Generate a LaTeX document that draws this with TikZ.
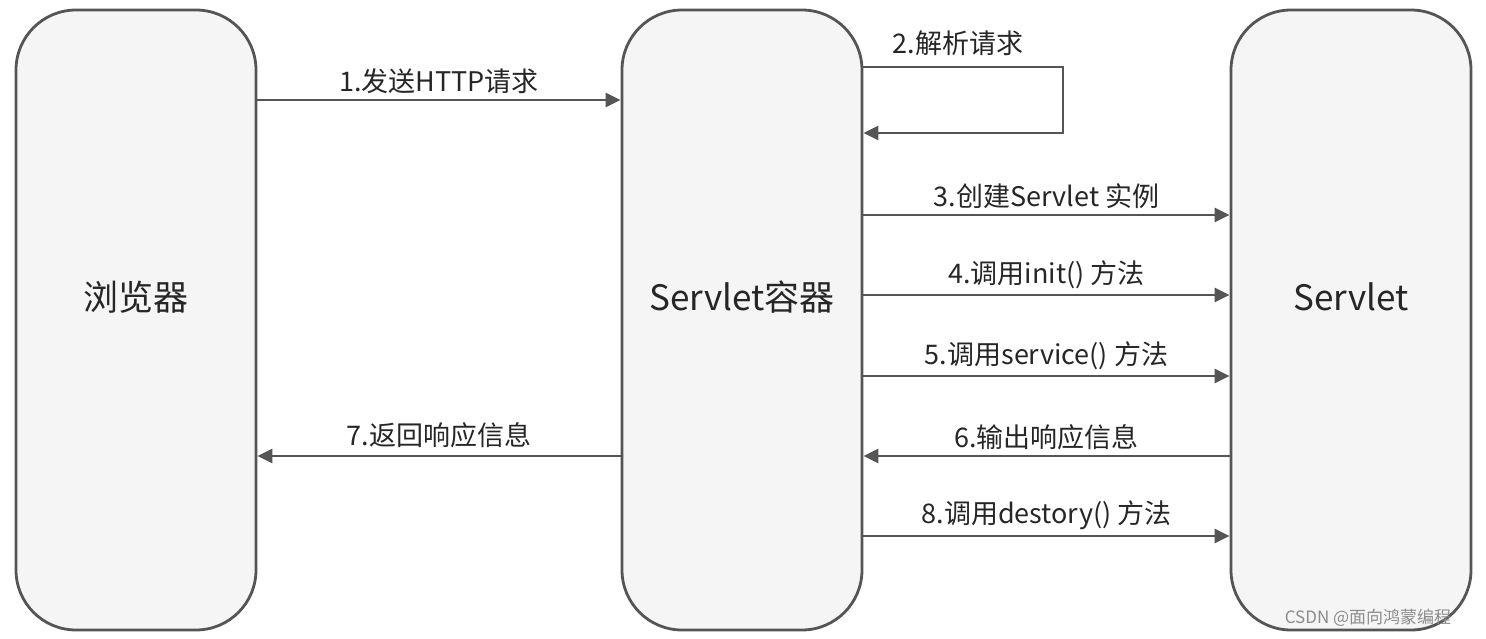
\documentclass[tikz,border=0pt]{standalone}
\usepackage{fontspec}
\setmainfont{Noto Sans CJK SC}
\usetikzlibrary{arrows.meta}
\definecolor{boxfill}{HTML}{F5F5F5}
\definecolor{line}{HTML}{555555}
\begin{document}
\begin{tikzpicture}[x=1pt,y=-1pt,
  lane/.style={draw=line,fill=boxfill,line width=2.8pt,rounded corners=60pt,minimum width=240pt,minimum height=620pt},
  title/.style={font=\fontsize{35}{40}\selectfont,text=black!85},
  msg/.style={draw=line,line width=2.6pt,-{Triangle[length=15pt,width=14pt]}},
  lbl/.style={font=\fontsize{27}{30}\selectfont,text=black!85}]
\useasboundingbox (0,0) rectangle (1486,638);
\node[lane] (b) at (136,320) {};
\node[lane] (c) at (742,320) {};
\node[lane] (s) at (1351,320) {};
\node[title] (bt) at (136,297) {浏览器};
\node[title] (ct) at (742,297) {Servlet容器};
\node[title] (st) at (1351,297) {Servlet};
\coordinate (l1) at (1063,67);
\coordinate (l2) at (1063,133);
\draw[msg] (b.east|-0,100) -- node[lbl,above=2pt]{1.发送HTTP请求} (c.west|-0,100);
\draw[msg] (c.east|-0,67) -- (l1) -- (l2) -- (c.east|-0,133);
\node[lbl] (t2) at (958,43) {2.解析请求};
\draw[msg] (c.east|-0,215) -- node[lbl,above=2pt]{3.创建Servlet 实例} (s.west|-0,215);
\draw[msg] (c.east|-0,295) -- node[lbl,above=2pt]{4.调用init() 方法} (s.west|-0,295);
\draw[msg] (c.east|-0,376) -- node[lbl,above=2pt]{5.调用service() 方法} (s.west|-0,376);
\draw[msg] (s.west|-0,456) -- node[lbl,above=2pt]{6.输出响应信息} (c.east|-0,456);
\draw[msg] (c.west|-0,456) -- node[lbl,above=4pt]{7.返回响应信息} (b.east|-0,456);
\draw[msg] (c.east|-0,536) -- node[lbl,above=2pt]{8.调用destory() 方法} (s.west|-0,536);
\node[font=\fontsize{17}{19}\selectfont,text=black!45] (wm) at (1368,618) {CSDN @面向鸿蒙编程};
\end{tikzpicture}
\end{document}
